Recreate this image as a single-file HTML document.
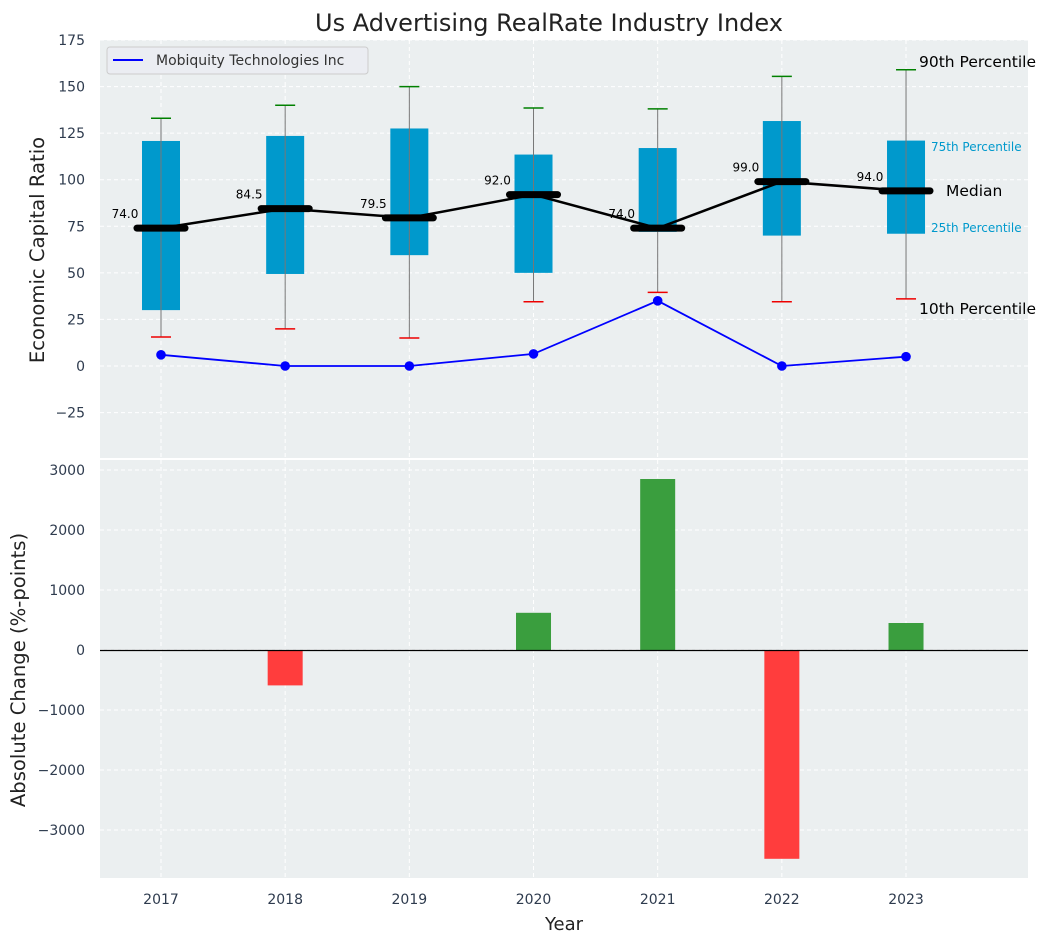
<!DOCTYPE html>
<html><head><meta charset="utf-8"><style>
body{margin:0;background:#fff;font-family:"Liberation Sans","DejaVu Sans",sans-serif}
</style></head><body>
<svg id="c" width="1054" height="942" xmlns="http://www.w3.org/2000/svg" font-family="DejaVu Sans, Liberation Sans, sans-serif"></svg>
<script>
const years=[2017,2018,2019,2020,2021,2022,2023];
const p10=[15.6,19.9,15,34.5,39.5,34.5,36];
const q1=[30,49.4,59.5,50,72,70,71];
const med=[74,84.5,79.5,92,74,99,94];
const q3=[120.8,123.5,127.5,113.5,117,131.5,121];
const p90=[133,140,150,138.5,138,155.5,159];
const company=[6,0,0,6.5,35,0,5];
const changes=[0,-590,0,620,2850,-3480,450];
const topTicks=[-25,0,25,50,75,100,125,150,175];
const botTicks=[-3000,-2000,-1000,0,1000,2000,3000];
const NS="http://www.w3.org/2000/svg";
const svg=document.getElementById('c');
function el(t,a,p){const e=document.createElementNS(NS,t);for(const k in a)e.setAttribute(k,a[k]);(p||svg).appendChild(e);return e;}
const L=100,R=1028;
const X=v=>161+(v-2017)*124.17;
const Y1=v=>366-v*1.8629;
const Y2=v=>650-v*0.06;
let bg=el('rect',{x:L,y:40,width:R-L,height:418,fill:'#ebeff0'});

let bg2=el('rect',{x:L,y:460,width:R-L,height:418,fill:'#ebeff0'});

years.forEach(y=>{el('line',{x1:X(y),x2:X(y),y1:40,y2:458,stroke:'#fff','stroke-dasharray':'4,3'});el('line',{x1:X(y),x2:X(y),y1:460,y2:878,stroke:'#fff','stroke-dasharray':'4,3'});});
topTicks.forEach(t=>{const y=Y1(t);el('line',{x1:L,x2:R,y1:y,y2:y,stroke:'#fff','stroke-dasharray':'4,3'});
const tx=el('text',{x:85,y:y+5,'text-anchor':'end','font-size':14,fill:'#2e3b4e'});tx.textContent=t===-25?'\u221225':t;
});
botTicks.forEach(t=>{const y=Y2(t);el('line',{x1:L,x2:R,y1:y,y2:y,stroke:'#fff','stroke-dasharray':'4,3'});
const tx=el('text',{x:85,y:y+5,'text-anchor':'end','font-size':14,fill:'#2e3b4e'});tx.textContent=t<0?'\u2212'+(-t):t;
});
years.forEach((yr,i)=>{const x=X(yr);
const b=el('rect',{x:x-19,y:Y1(q3[i]),width:38,height:Y1(q1[i])-Y1(q3[i]),fill:'#0099cc'});

el('line',{x1:x,x2:x,y1:Y1(p10[i]),y2:Y1(p90[i]),stroke:'#777','stroke-width':1});
el('line',{x1:x-10,x2:x+10,y1:Y1(p10[i]),y2:Y1(p10[i]),stroke:'#e00','stroke-width':1.5});
el('line',{x1:x-10,x2:x+10,y1:Y1(p90[i]),y2:Y1(p90[i]),stroke:'green','stroke-width':1.5});
});
el('polyline',{points:years.map((y,i)=>X(y)+','+Y1(med[i])).join(' '),fill:'none',stroke:'#000','stroke-width':2.5});
years.forEach((yr,i)=>{const x=X(yr);
const m=el('line',{x1:x-24,x2:x+24,y1:Y1(med[i]),y2:Y1(med[i]),stroke:'#000','stroke-width':7,'stroke-linecap':'round'});

const t=el('text',{x:x-36,y:Y1(med[i])-10,'text-anchor':'middle','font-size':12,fill:'#000'});t.textContent=med[i].toFixed(1);
});
el('polyline',{points:years.map((y,i)=>X(y)+','+Y1(company[i])).join(' '),fill:'none',stroke:'#0000ff','stroke-width':1.8});
years.forEach((yr,i)=>{const c=el('circle',{cx:X(yr),cy:Y1(company[i]),r:4.8,fill:'#0000ff'});
});
const ann=[['90th Percentile',919,67,15.5,'#000'],['75th Percentile',931,151,12,'#0099cc'],['Median',946,196,15.5,'#000'],['25th Percentile',931,232,12,'#0099cc'],['10th Percentile',919,314,15.5,'#000']];
ann.forEach(a=>{const t=el('text',{x:a[1],y:a[2],'font-size':a[3],fill:a[4]});t.textContent=a[0];
});
const lg=el('g',{});
el('rect',{x:107,y:47,width:261,height:27,rx:3,fill:'#ebedf2',stroke:'#ccc'},lg);
el('line',{x1:113,x2:143,y1:60,y2:60,stroke:'#0000ff','stroke-width':2},lg);
const lt=el('text',{x:156,y:65,'font-size':14,fill:'#333'},lg);lt.textContent='Mobiquity Technologies Inc';
years.forEach((yr,i)=>{const v=changes[i];if(!v)return;const y0=Y2(0),y1=Y2(v);
const b=el('rect',{x:X(yr)-17.5,y:Math.min(y0,y1),width:35,height:Math.abs(y1-y0),fill:v>0?'#3a9e3e':'#ff3d3d'});
});
el('line',{x1:L,x2:R,y1:Y2(0)+0.5,y2:Y2(0)+0.5,stroke:'#000','stroke-width':1.2});
years.forEach(yr=>{const t=el('text',{x:X(yr),y:904,'text-anchor':'middle','font-size':14,fill:'#2e3b4e'});t.textContent=yr;
});
let t=el('text',{x:549,y:31,'text-anchor':'middle','font-size':24,fill:'#222'});t.textContent='Us Advertising RealRate Industry Index';

t=el('text',{x:564,y:930,'text-anchor':'middle','font-size':18,fill:'#222'});t.textContent='Year';

t=el('text',{x:44,y:250,'text-anchor':'middle','font-size':19.6,fill:'#222',transform:'rotate(-90 44 250)'});t.textContent='Economic Capital Ratio';

t=el('text',{x:25,y:670,'text-anchor':'middle','font-size':19.6,fill:'#222',transform:'rotate(-90 25 670)'});t.textContent='Absolute Change (%-points)';

</script>
</body></html>
